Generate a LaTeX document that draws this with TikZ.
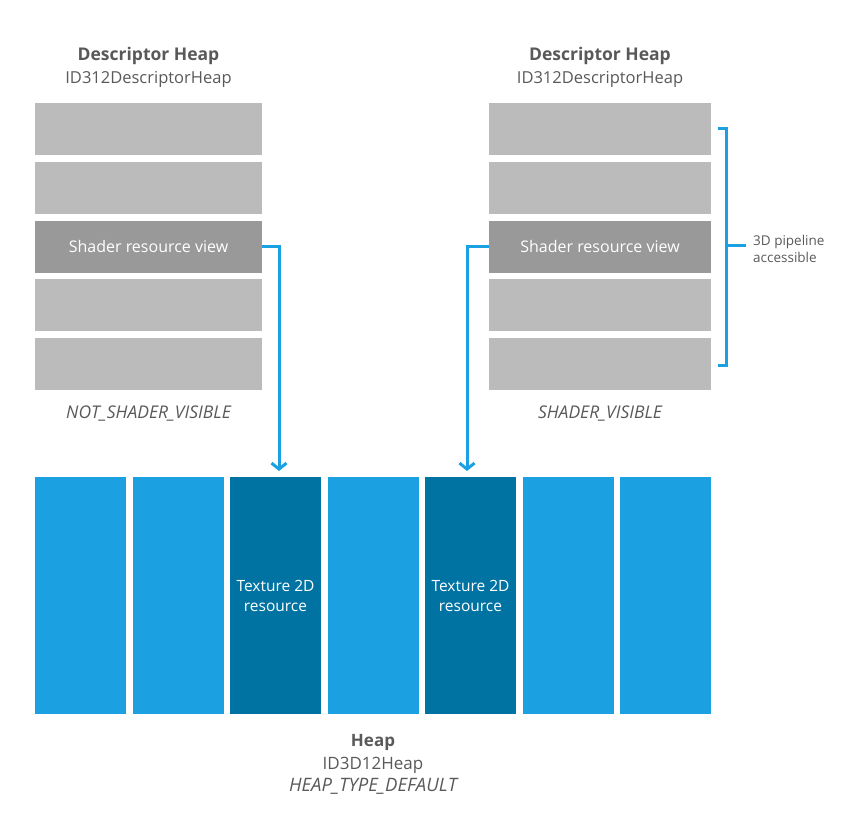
\documentclass[tikz,border=0pt]{standalone}
\usepackage{fontspec}
\setmainfont{Open Sans}
\usetikzlibrary{arrows.meta}
\definecolor{slotgray}{HTML}{BBBBBB}
\definecolor{srvgray}{HTML}{999999}
\definecolor{heapblue}{HTML}{1BA1E2}
\definecolor{texblue}{HTML}{0073A3}
\definecolor{labelgray}{HTML}{595959}
\begin{document}
\begin{tikzpicture}[x=1pt, y=-1pt,
	slot/.style = {fill=slotgray, minimum height=52pt, inner sep=0pt},
	srv/.style = {fill=srvgray, text=white, font=\fontsize{16}{18}\selectfont},
	heapcol/.style = {fill=heapblue, minimum width=91pt, minimum height=237pt, inner sep=0pt},
	texcol/.style = {fill=texblue, text=white, align=center, font=\fontsize{15.5}{20}\selectfont},
	title/.style = {text=labelgray, align=center, font=\fontsize{16.5}{23}\selectfont},
	flag/.style = {text=labelgray, font=\fontsize{17.5}{18}\selectfont\itshape},
	link/.style = {draw=heapblue, line width=3pt, -{Straight Barb[length=6pt, width=15pt, line width=3pt]}}
	]
		\useasboundingbox (0,0) rectangle (860,822);
		% Descriptor Heap (左・右)
		\foreach \i in {1,2,4,5} {
			\node [slot, minimum width=227pt] (L\i) at (148.5, {70.25 + 58.75*\i}) {};
			\node [slot, minimum width=222pt] (R\i) at (600, {70.25 + 58.75*\i}) {};
		}
		\node [slot, srv, minimum width=227pt] (L3) at (148.5, 246.5) {Shader resource view};
		\node [slot, srv, minimum width=222pt] (R3) at (600, 246.5) {Shader resource view};
		\node [title] (Ltitle) at (148.5, 67.5) {{\fontsize{17.5}{23}\selectfont\bfseries Descriptor Heap}\\ID312DescriptorHeap};
		\node [title] (Rtitle) at (600, 67.5) {{\fontsize{17.5}{23}\selectfont\bfseries Descriptor Heap}\\ID312DescriptorHeap};
		\node [flag] (Lflag) at (148.5, 414) {NOT\_SHADER\_VISIBLE};
		\node [flag] (Rflag) at (600, 414) {SHADER\_VISIBLE};
		% Heap
		\foreach \j in {1,2,4,6,7} {
			\node [heapcol] (H\j) at ({-17 + 97.5*\j}, 595.5) {};
		}
		\node [heapcol, texcol] (H3) at (275.5, 595.5) {Texture 2D\\resource};
		\node [heapcol, texcol] (H5) at (470.5, 595.5) {Texture 2D\\resource};
		\node [title, font=\fontsize{17}{22.5}\selectfont] (heaptitle) at (373, 764.5) {\textbf{Heap}\\ID3D12Heap\\{\fontsize{18.5}{22.5}\selectfont\itshape HEAP\_TYPE\_DEFAULT}};
		% 矢印
		\coordinate (Lbend) at (279, 246.5);
		\coordinate (Rbend) at (467, 246.5);
		\draw [link] (L3.east) -- (Lbend) -- (Lbend |- 0,471);
		\draw [link] (R3.west) -- (Rbend) -- (Rbend |- 0,471);
		% 3D pipeline accessible
		\coordinate (btop) at (726, 128);
		\coordinate (bbot) at (726, 365);
		\coordinate (bmid) at (726, 245);
		\draw [heapblue, line width=3pt] ([xshift=-8pt]btop) -- (btop) -- (bbot) -- ([xshift=-8pt]bbot);
		\draw [heapblue, line width=3pt] (bmid) -- ++(20,0) coordinate (btip);
		\node [anchor=west, align=left, text=labelgray, font=\fontsize{13.5}{17}\selectfont, inner sep=0pt] (pipe) at ([xshift=7pt, yshift=-4pt]btip) {3D pipeline\\accessible};
	\end{tikzpicture}
\end{document}
